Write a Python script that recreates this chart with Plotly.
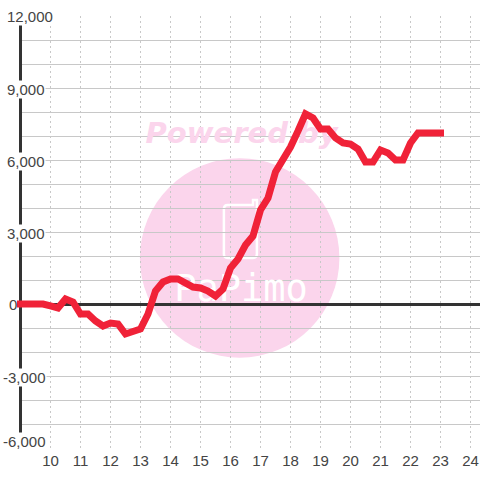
import plotly.graph_objects as go

hours = [9.0, 9.25, 9.5, 9.75, 10.0, 10.25, 10.5, 10.75, 11.0, 11.25, 11.5, 11.75,
         12.0, 12.25, 12.5, 12.75, 13.0, 13.25, 13.5, 13.75, 14.0, 14.25, 14.5, 14.75,
         15.0, 15.25, 15.5, 15.75, 16.0, 16.25, 16.5, 16.75, 17.0, 17.25, 17.5, 17.75,
         18.0, 18.25, 18.5, 18.75, 19.0, 19.25, 19.5, 19.75, 20.0, 20.25, 20.5, 20.75,
         21.0, 21.25, 21.5, 21.75, 22.0, 22.25, 22.5, 22.75, 23.0]
values = [0, 0, 0, 0, -83, -167, 208, 83, -417, -417, -708, -917,
          -792, -833, -1250, -1125, -1042, -417, 542, 917, 1042, 1042, 875, 708,
          667, 542, 333, 625, 1500, 1875, 2458, 2833, 3917, 4417, 5500, 6000,
          6542, 7208, 7917, 7750, 7292, 7292, 6917, 6708, 6667, 6458, 5917, 5917,
          6417, 6292, 6000, 6000, 6708, 7125, 7125, 7125, 7125]

x_ticks = list(range(10, 25))
y_labels = ["12,000", "9,000", "6,000", "3,000", "0", "-3,000", "-6,000"]
y_label_vals = [12000, 9000, 6000, 3000, 0, -3000, -6000]
y_label_xshift = [-13, -13, -13, -13, -11, -17, -17]
y_label_yshift = [0, -1, -1, -1, 0, -1, 7]

PINK = "#fbd5ec"
INK = "#444444"
X0, X1 = 8.95, 24.3167

fig = go.Figure()
fig.add_trace(go.Scatter(x=[16.37], y=[7000], mode="text", text=["Powered by"],
                         textfont=dict(family="DejaVu Sans", size=29, color=PINK, weight="bold", style="italic"),
                         hoverinfo="skip", showlegend=False, cliponaxis=False))
fig.add_trace(go.Scatter(x=[16.35], y=[500], mode="text", text=["PaPimo"],
                         textfont=dict(family="DejaVu Sans Mono", size=37, color="#ffffff"),
                         hoverinfo="skip", showlegend=False, cliponaxis=False))
fig.add_trace(go.Scatter(x=hours, y=values, mode="lines",
                         line=dict(color="#f02238", width=7, shape="linear"),
                         hoverinfo="skip", showlegend=False, cliponaxis=False))

# logo: pink disc and phone outline behind the grid
fig.add_shape(type="circle", layer="below", line_width=0, fillcolor=PINK,
              x0=12.98, x1=19.63, y0=-2237, y1=6075)
fig.add_shape(type="path", layer="below", line=dict(color="#ffffff", width=2.5),
              path="M 15.78,3950 L 15.78,2080 Q 15.78,1917 15.91,1917 L 16.75,1917 "
                   "Q 16.88,1917 16.88,2080 L 16.88,4333 L 16.75,4333 L 16.75,4125 "
                   "L 15.91,4125 Q 15.78,4125 15.78,3950 Z")
# y axis line at the start of the time scale
fig.add_shape(type="line", layer="between", x0=hours[0], x1=hours[0], y0=-6000, y1=12000,
              line=dict(color="#333333", width=3))

for t, v, xs, ys in zip(y_labels, y_label_vals, y_label_xshift, y_label_yshift):
    fig.add_annotation(xref="paper", yref="y", x=0, y=v, text=t, showarrow=False,
                       xanchor="left", yanchor="middle", xshift=xs, yshift=ys,
                       bgcolor="rgba(0,0,0,0)" if t == "0" else "#ffffff", borderpad=0,
                       font=dict(family="Liberation Sans", size=15, color=INK))

fig.update_layout(
    width=480, height=480, autosize=False,
    margin=dict(l=19, r=0, t=16, b=32),
    paper_bgcolor="#ffffff", plot_bgcolor="#ffffff",
    showlegend=False,
    xaxis=dict(range=[X0, X1], tickmode="array", tickvals=x_ticks,
               ticktext=[str(t) for t in x_ticks], showgrid=True, gridcolor="#c8c8c8",
               gridwidth=1, griddash="2px,3px", zeroline=False, showline=False, ticks="",
               ticklabelstandoff=2,
               tickfont=dict(family="Liberation Sans", size=15, color=INK)),
    yaxis=dict(range=[-6000, 12000], dtick=1000, showgrid=True, gridcolor="#c8c8c8",
               gridwidth=1, showticklabels=False, ticks="",
               zeroline=True, zerolinecolor="#333333", zerolinewidth=3,
               showline=False),
)

fig.write_html("out.html", config=dict(displayModeBar=False),
               post_script="document.body.style.margin='0';"
                           "document.querySelectorAll('.js-line').forEach(function(p){p.style.strokeLinecap='square';});"
                           "document.querySelectorAll('g.plot, .scatterlayer, .scatterlayer [clip-path]').forEach(function(g){g.removeAttribute('clip-path');});")
